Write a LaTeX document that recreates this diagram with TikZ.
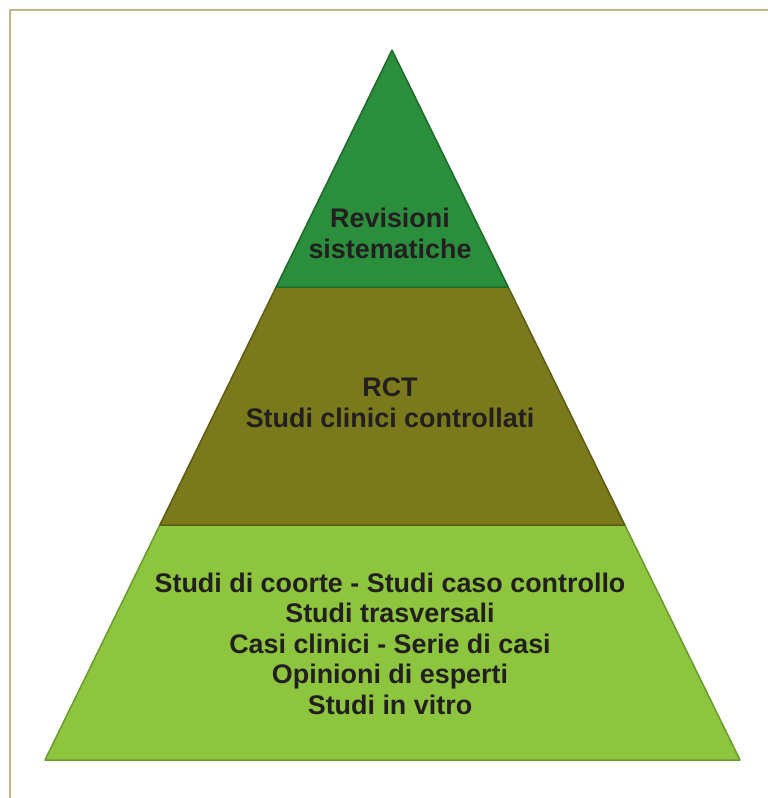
\documentclass[tikz,border=0pt]{standalone}
\usepackage{fontspec}
\setmainfont{Liberation Sans}
\usetikzlibrary{calc}
\definecolor{topfill}{HTML}{2A8E3C}
\definecolor{topline}{HTML}{1F6B2C}
\definecolor{midfill}{HTML}{7A7A1C}
\definecolor{midline}{HTML}{5C5C12}
\definecolor{botfill}{HTML}{8DC53F}
\definecolor{botline}{HTML}{6A9A2E}
\definecolor{txt}{HTML}{231F20}
\definecolor{frame}{HTML}{BDB98C}
\tikzset{
  lbl/.style={anchor=base, inner sep=0pt, text=txt, font=\fontsize{26.9}{31}\selectfont\bfseries},
  layer/.style={line width=1.5pt, line join=round}
}
\begin{document}
\begin{tikzpicture}[x=1pt,y=-1pt]
\useasboundingbox[fill=white] (0,0) rectangle (768,798);
\draw[frame, line width=1.8pt] (10,798) -- (10,10) -- (768,10);
\coordinate (apex) at (392,50);
\coordinate (bl) at (45,760);
\coordinate (br) at (740,760);
\coordinate (l1) at ($(apex)!0.3338!(bl)$);
\coordinate (r1) at ($(apex)!0.3338!(br)$);
\coordinate (l2) at ($(apex)!0.669!(bl)$);
\coordinate (r2) at ($(apex)!0.669!(br)$);
\draw[layer, fill=botfill, draw=botline] (l2) -- (r2) -- (br) -- (bl) -- cycle;
\draw[layer, fill=midfill, draw=midline] (l1) -- (r1) -- (r2) -- (l2) -- cycle;
\draw[layer, fill=topfill, draw=topline] (apex) -- (r1) -- (l1) -- cycle;
\node[lbl] (t1) at (390,227) {Revisioni};
\node[lbl] (t2) at (390,258) {sistematiche};
\node[lbl] (m1) at (390,396) {RCT};
\node[lbl] (m2) at (390,427) {Studi clinici controllati};
\node[lbl] (b1) at (390,592) {Studi di coorte - Studi caso controllo};
\node[lbl] (b2) at (390,622.5) {Studi trasversali};
\node[lbl] (b3) at (390,653) {Casi clinici - Serie di casi};
\node[lbl] (b4) at (390,683.5) {Opinioni di esperti};
\node[lbl] (b5) at (390,714) {Studi in vitro};
\end{tikzpicture}
\end{document}
